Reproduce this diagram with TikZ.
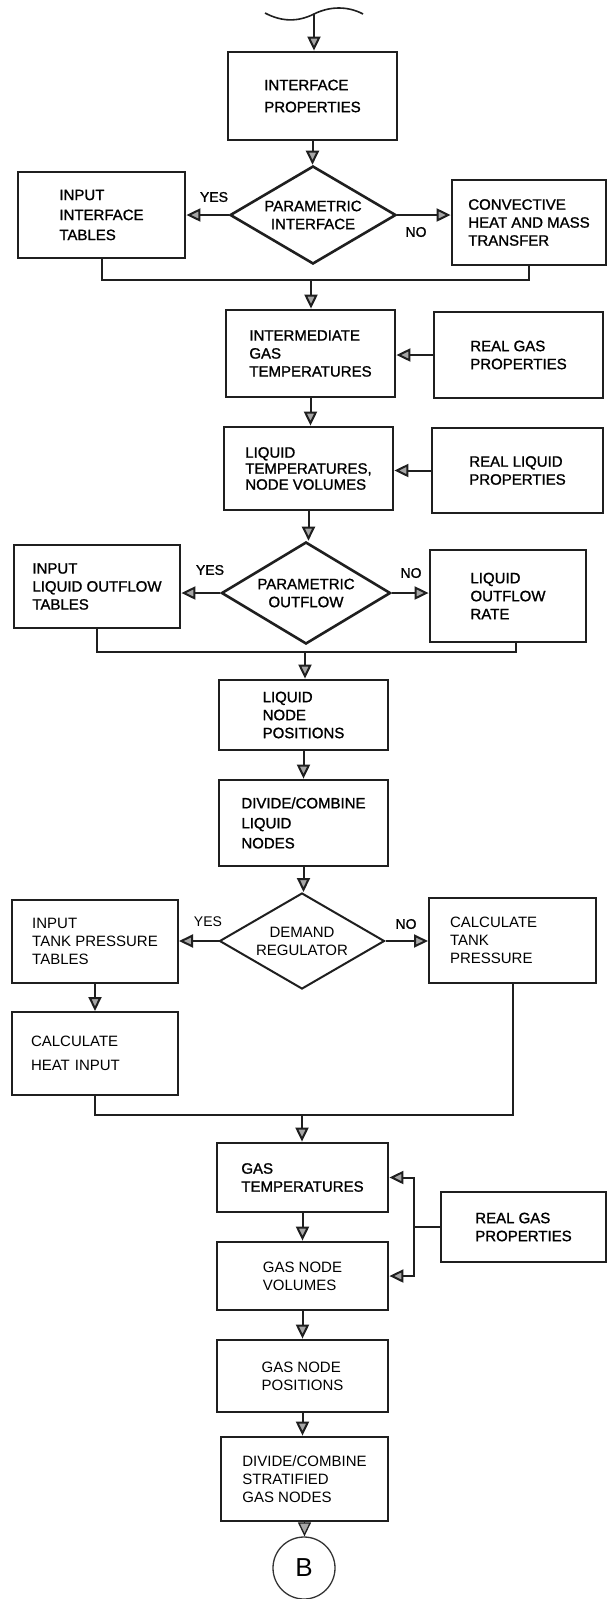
\documentclass[tikz,border=0pt]{standalone}
\usepackage{fontspec}
\setmainfont{Liberation Sans}[FakeBold=1.2]
\newfontfamily\handfont{Liberation Sans}
\usetikzlibrary{shapes.geometric,arrows.meta,calc}
\begin{document}
\begin{tikzpicture}[x=1pt,y=-1pt,
  every node/.style={font=\fontsize{15}{18}\selectfont},
  box/.style={draw=black!88, line width=2.8pt, align=left, inner sep=0pt},
  dia/.style={draw=black!88, diamond, line width=2.6pt, align=center, inner sep=0pt, aspect=1.7},
  arr/.style={draw=black!88, line width=2pt, -{Triangle[length=14pt,width=13pt,fill=gray!70]}},
  ln/.style={draw=black!88, line width=2pt},
  lbl/.style={font=\fontsize{14}{16}\selectfont},
  hand/.style={font=\handfont\fontsize{15}{18}\selectfont}]
\useasboundingbox (0,0) rectangle (608,1599);
\fill[white] (0,0) rectangle (608,1599);

% boxes
\node[box, minimum width=169pt, minimum height=88pt, font=\fontsize{15}{22}\selectfont] (ip) at (312.5,96) {INTERFACE\\PROPERTIES};
\node[box, minimum width=167pt, minimum height=86pt, font=\fontsize{15}{20}\selectfont] (ilt) at (101.5,215) {INPUT\\INTERFACE\\TABLES};
\node[box, minimum width=154pt, minimum height=85pt] (chmt) at (529,222.5) {CONVECTIVE\\HEAT AND MASS\\TRANSFER};
\node[box, minimum width=169pt, minimum height=87pt] (igt) at (310.5,353.5) {INTERMEDIATE\\GAS\\TEMPERATURES};
\node[box, minimum width=169pt, minimum height=86pt] (rgp1) at (518.5,355) {REAL GAS\\PROPERTIES};
\node[box, minimum width=169pt, minimum height=83pt, font=\fontsize{15}{16}\selectfont] (ltnv) at (308.5,468.5) {LIQUID\\TEMPERATURES,\\NODE VOLUMES};
\node[box, minimum width=171pt, minimum height=85pt] (rlp) at (517.5,470.5) {REAL LIQUID\\PROPERTIES};
\node[box, minimum width=166pt, minimum height=83pt] (ilot) at (97,586.5) {INPUT\\LIQUID OUTFLOW\\TABLES};
\node[box, minimum width=156pt, minimum height=92pt] (lor) at (508,596) {LIQUID\\OUTFLOW\\RATE};
\node[box, minimum width=169pt, minimum height=70pt] (lnp) at (303.5,715) {LIQUID\\NODE\\POSITIONS};
\node[box, minimum width=169pt, minimum height=86pt, font=\fontsize{15}{20}\selectfont] (dcl) at (303.5,823) {DIVIDE/COMBINE\\LIQUID\\NODES};
\node[box, hand, line width=2pt, minimum width=166pt, minimum height=83pt] (itpt) at (95,941.5) {INPUT\\TANK PRESSURE\\TABLES};
\node[box, hand, line width=2pt, minimum width=167pt, minimum height=85pt, text width=125pt, inner xsep=21pt] (ctp) at (512.5,940.5) {CALCULATE\\TANK\\PRESSURE};
\node[box, line width=2pt, minimum width=166pt, minimum height=83pt, text width=128pt, inner xsep=19pt, font=\handfont\fontsize{15}{24}\selectfont] (chi) at (95,1053.5) {CALCULATE\\HEAT INPUT};
\node[box, minimum width=171pt, minimum height=69pt] (gt) at (302.5,1177.5) {GAS\\TEMPERATURES};
\node[box, hand, minimum width=171pt, minimum height=68pt] (gnv) at (302.5,1276) {GAS NODE\\VOLUMES};
\node[box, minimum width=165pt, minimum height=70pt] (rgp2) at (523.5,1227) {REAL GAS\\PROPERTIES};
\node[box, hand, minimum width=171pt, minimum height=72pt] (gnp) at (302.5,1376) {GAS NODE\\POSITIONS};
\node[box, hand, minimum width=167pt, minimum height=84pt] (dcsgn) at (304.5,1479) {DIVIDE/COMBINE\\STRATIFIED\\GAS NODES};
\node[draw=black!80, circle, line width=1.3pt, minimum size=62pt, inner sep=0pt, font=\handfont\fontsize{26}{26}\selectfont] (b) at (304,1568) {B};

% decisions
\node[dia, minimum width=166pt, minimum height=98pt] (d1) at (313,215) {PARAMETRIC\\INTERFACE};
\node[dia, minimum width=169pt, minimum height=102pt] (d2) at (306,593) {PARAMETRIC\\OUTFLOW};
\node[dia, hand, line width=2pt, minimum width=165pt, minimum height=96pt] (d3) at (302,941) {DEMAND\\REGULATOR};

% labels
\node[lbl] (yes1) at (214,197) {YES};
\node[lbl] (no1) at (416,232) {NO};
\node[lbl] (yes2) at (210,570) {YES};
\node[lbl] (no2) at (411,573) {NO};
\node[lbl, font=\handfont\fontsize{14}{16}\selectfont] (yes3) at (208,922) {YES};
\node[lbl] (no3) at (406,924) {NO};

% top wave and entry
\draw[ln, line width=1.6pt] (265,13) .. controls (282,22) and (298,22) .. (314,14) .. controls (330,6) and (348,6) .. (363,14);
\coordinate (w) at (314,14);
\draw[arr] (w) -- (w |- ip.north);

\draw[arr] (ip.south) -- (ip.south |- d1.north);
\draw[arr] (d1.west) -- (d1.west -| ilt.east);
\draw[arr] (d1.east) -- (d1.east -| chmt.west);
\coordinate (m1) at (311,280);
\draw[ln] (ilt.south) |- (m1) -| (chmt.south);
\draw[arr] (m1) -- (m1 |- igt.north);
\draw[arr] (rgp1.west) -- (rgp1.west -| igt.east);
\draw[arr] (igt.south) -- (igt.south |- ltnv.north);
\draw[arr] (rlp.west) -- (rlp.west -| ltnv.east);
\draw[arr] (ltnv.south) -- (ltnv.south |- d2.north);
\draw[arr] (d2.west) -- (d2.west -| ilot.east);
\draw[arr] (d2.east) -- (d2.east -| lor.west);
\coordinate (m2) at (305,652);
\draw[ln] (ilot.south) |- (m2) -| ([xshift=8pt]lor.south);
\draw[arr] (m2) -- (m2 |- lnp.north);
\draw[arr] (lnp.south) -- (dcl.north);
\draw[arr] (dcl.south) -- (dcl.south |- d3.north);
\draw[arr] (d3.west) -- (d3.west -| itpt.east);
\draw[arr] (d3.east) -- (d3.east -| ctp.west);
\draw[arr] (itpt.south) -- (chi.north);
\coordinate (m3) at (302,1115);
\draw[ln] (chi.south) |- (m3) -| (ctp.south);
\draw[arr] (m3) -- (m3 |- gt.north);
\draw[arr] (gt.south) -- (gnv.north);
\coordinate (j) at (414,1227);
\draw[ln] (rgp2.west) -- (j);
\draw[arr] (j) |- (gt.east);
\draw[arr] (j) |- (gnv.east);
\draw[arr] (gnv.south) -- (gnp.north);
\draw[arr] (gnp.south) -- (gnp.south |- dcsgn.north);
\draw[arr, line width=1.3pt] (dcsgn.south) -- (dcsgn.south |- b.north);
\end{tikzpicture}
\end{document}
